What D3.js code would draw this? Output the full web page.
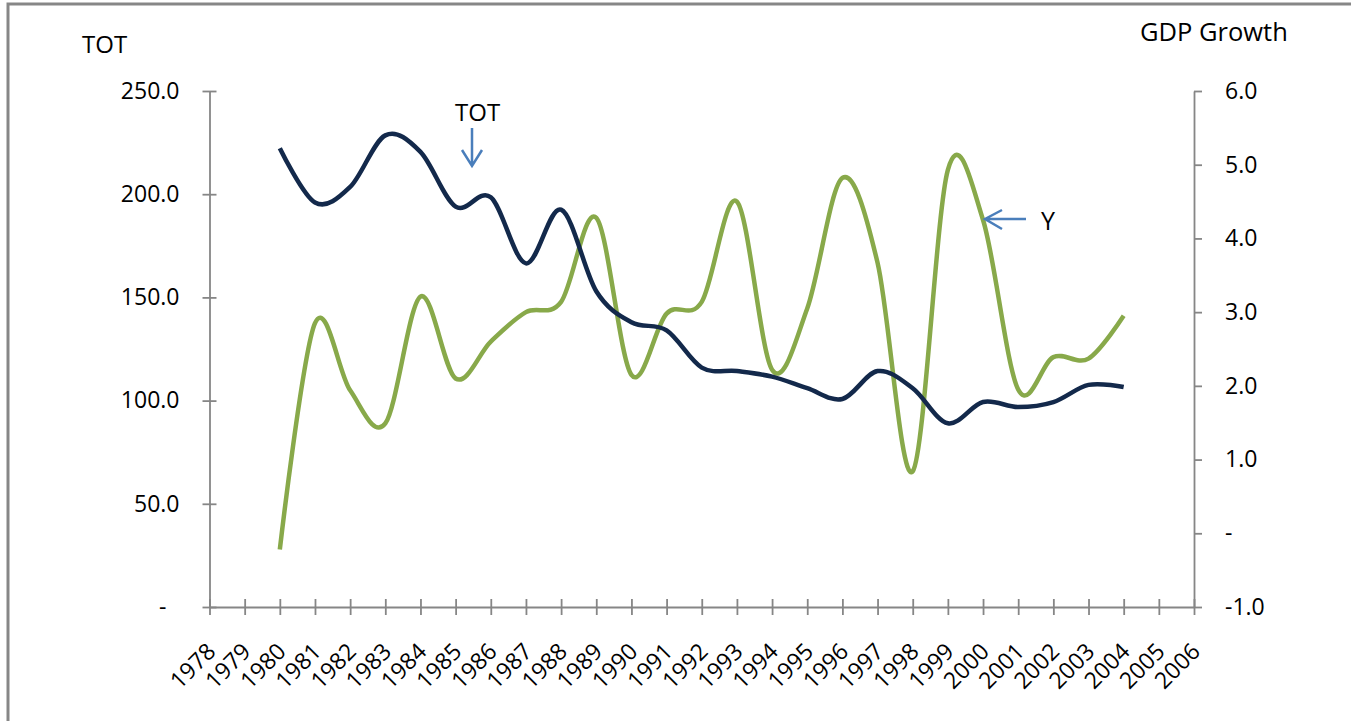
<html>
<head>
    <script src="https://d3js.org/d3.v7.min.js"></script>
    <style>
        body {
            margin: 0;
            background: #fff;
        }

        svg text {
            font-family: "Open Sans", sans-serif;
            fill: #000;
        }

        .axis path,
        .axis line {
            stroke: #868686;
            stroke-width: 1.8px;
        }

        .axis text {
            font-size: 23px;
        }
    </style>
</head>

<body>
    <svg width="1351" height="721"></svg>
    <script>
        // categories on the x axis
        const years = ["1978", "1979", "1980", "1981", "1982", "1983", "1984", "1985", "1986", "1987",
            "1988", "1989", "1990", "1991", "1992", "1993", "1994", "1995", "1996", "1997",
            "1998", "1999", "2000", "2001", "2002", "2003", "2004", "2005", "2006"];

        // years that have data
        const dataYears = ["1980", "1981", "1982", "1983", "1984", "1985", "1986", "1987", "1988", "1989",
            "1990", "1991", "1992", "1993", "1994", "1995", "1996", "1997", "1998", "1999",
            "2000", "2001", "2002", "2003", "2004"];

        // terms of trade (left axis)
        const tot = [222.3, 196.0, 203.5, 228.5, 220.5, 194.0, 198.5, 166.5, 192.5, 153.0,
            138.0, 134.0, 116.0, 114.3, 111.6, 106.0, 100.8, 114.3, 106.0, 89.0,
            99.3, 96.9, 99.3, 107.6, 106.6];

        // GDP growth (right axis)
        const gdp = [-0.22, 2.85, 1.94, 1.49, 3.21, 2.10, 2.60, 3.00, 3.14, 4.28,
            2.15, 2.98, 3.14, 4.50, 2.22, 3.05, 4.82, 3.67, 0.84, 4.93,
            4.25, 1.95, 2.39, 2.37, 2.95];

        const leftTicks = [0, 50, 100, 150, 200, 250];
        const rightTicks = [-1, 0, 1, 2, 3, 4, 5, 6];

        const margin = { top: 91, right: 157, bottom: 114, left: 209.5 };
        const width = 1351, height = 721;

        const svg = d3.select("svg");

        // outer frame (only left and top edges are visible in the picture)
        svg.append("rect")
            .attr("x", 8).attr("y", 4)
            .attr("width", 1400).attr("height", 800)
            .attr("fill", "none")
            .attr("stroke", "#878787")
            .attr("stroke-width", 3);

        const x = d3.scalePoint()
            .domain(years)
            .range([margin.left, width - margin.right]);

        const yLeft = d3.scaleLinear()
            .domain([0, 250])
            .range([height - margin.bottom, margin.top]);

        const yRight = d3.scaleLinear()
            .domain([-1, 6])
            .range([height - margin.bottom, margin.top]);

        // left axis
        const leftAxis = svg.append("g")
            .attr("class", "axis")
            .attr("transform", `translate(${margin.left},0)`)
            .call(d3.axisLeft(yLeft)
                .tickValues(leftTicks)
                .tickSize(7)
                .tickSizeOuter(0)
                .tickPadding(23)
                .tickFormat(d => d === 0 ? "-" : d.toFixed(1)));
        leftAxis.selectAll(".tick line").attr("x1", 7);
        leftAxis.selectAll(".tick text").filter(d => d === 0).attr("dx", -13);

        // right axis
        const rightAxis = svg.append("g")
            .attr("class", "axis")
            .attr("transform", `translate(${width - margin.right},0)`)
            .call(d3.axisRight(yRight)
                .tickValues(rightTicks)
                .tickSize(8)
                .tickSizeOuter(0)
                .tickPadding(23)
                .tickFormat(d => d === 0 ? "-" : d.toFixed(1)));

        // bottom axis
        const bottomAxis = svg.append("g")
            .attr("class", "axis")
            .attr("transform", `translate(0,${height - margin.bottom})`)
            .call(d3.axisBottom(x).tickSize(8).tickSizeOuter(0));
        bottomAxis.selectAll(".tick line").attr("y1", -8);
        bottomAxis.selectAll(".tick text")
            .attr("y", 0)
            .attr("dy", 0)
            .attr("text-anchor", "end")
            .attr("transform", "translate(7,46) rotate(-45)");

        // lines
        const totLine = d3.line()
            .x((d, i) => x(dataYears[i]))
            .y(d => yLeft(d))
            .curve(d3.curveCardinal.tension(0));

        const gdpLine = d3.line()
            .x((d, i) => x(dataYears[i]))
            .y(d => yRight(d))
            .curve(d3.curveCardinal.tension(0));

        svg.append("path")
            .datum(gdp)
            .attr("d", gdpLine)
            .attr("fill", "none")
            .attr("stroke", "#88a94a")
            .attr("stroke-width", 4.5);

        svg.append("path")
            .datum(tot)
            .attr("d", totLine)
            .attr("fill", "none")
            .attr("stroke", "#13294b")
            .attr("stroke-width", 4.5);

        // axis titles
        svg.append("text").attr("x", 82).attr("y", 53).style("font-size", "24px").text("TOT");
        svg.append("text").attr("x", 1140).attr("y", 41).style("font-size", "25.5px").text("GDP Growth");

        // annotations with arrows
        const arrowColor = "#4a7ebb";
        svg.append("text").attr("x", 455).attr("y", 121).style("font-size", "24px").text("TOT");
        svg.append("path")
            .attr("d", "M472,128 L472,166 M462,150 L472,166 L482,150")
            .attr("fill", "none").attr("stroke", arrowColor).attr("stroke-width", 2.5);

        svg.append("text").attr("x", 1041).attr("y", 230).style("font-size", "25px").text("Y");
        svg.append("path")
            .attr("d", "M1026,219 L985,219 M1002,210 L985,219 L1002,229")
            .attr("fill", "none").attr("stroke", arrowColor).attr("stroke-width", 2.5);
    </script>
</body>
</html>
